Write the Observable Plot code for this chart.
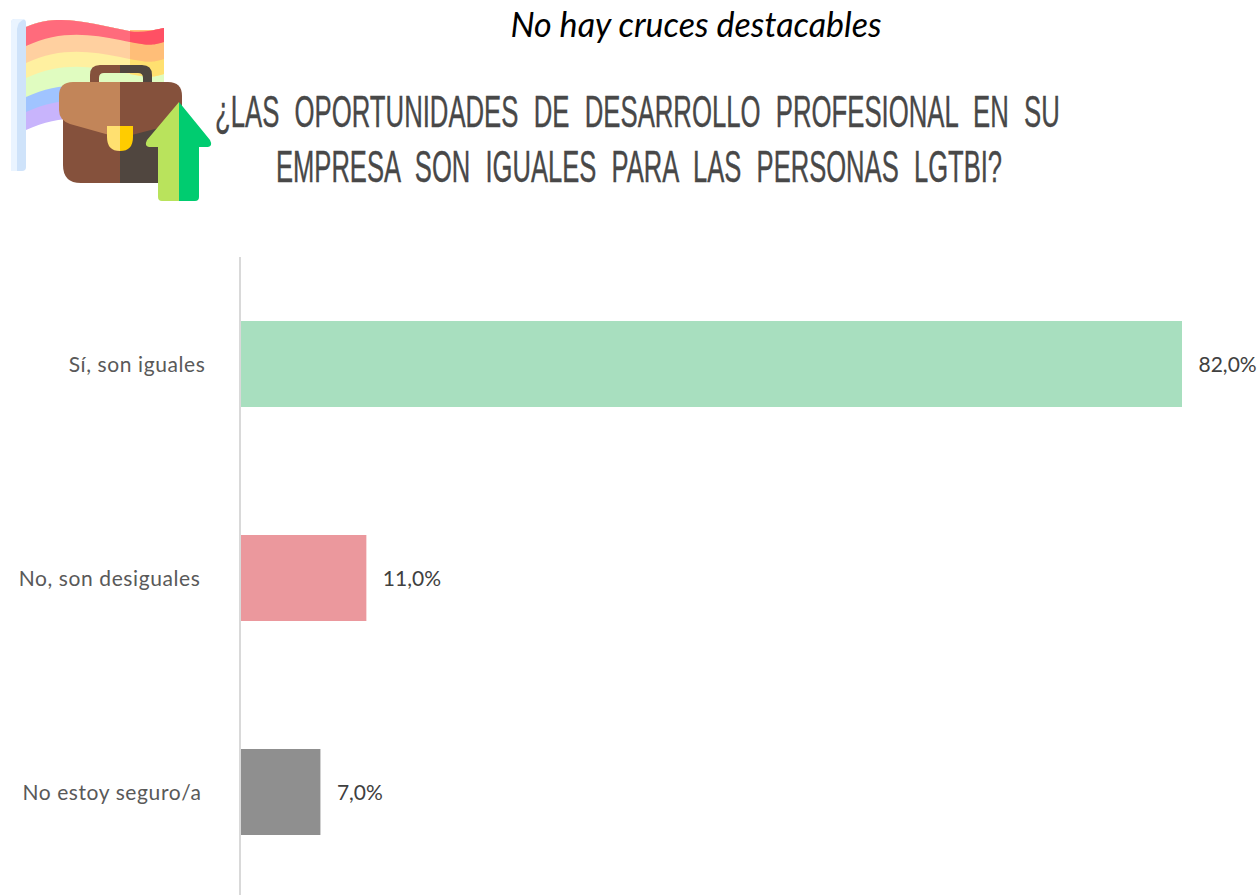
<!DOCTYPE html>
<html lang="es">
<head>
<meta charset="utf-8">
<script src="https://cdn.jsdelivr.net/npm/d3@7"></script>
<script src="https://cdn.jsdelivr.net/npm/@observablehq/plot@0.6"></script>
<style>
html,body{margin:0;padding:0;background:#fff;width:1258px;height:895px;overflow:hidden;}
#sub{position:absolute;left:0;width:1392px;top:3px;text-align:center;font:italic 34px Lato,sans-serif;color:#000;white-space:nowrap;}
#title{position:absolute;left:0;top:0;overflow:visible;}
#title text{font:400 44px "Liberation Sans",sans-serif;fill:#484848;stroke:#484848;stroke-width:.4px;word-spacing:14px;}
#icon{position:absolute;left:0;top:0;}
#chart{position:absolute;left:0;top:257px;}
#chart .cat, #chart .cat text{letter-spacing:.6px;}
</style>
</head>
<body>
<div id="sub">No hay cruces destacables</div>
<svg id="title" width="1258" height="205" role="img" aria-label="Título">
  <text transform="translate(215,127) scale(.6,1)" textLength="1408" lengthAdjust="spacingAndGlyphs">¿LAS OPORTUNIDADES DE DESARROLLO PROFESIONAL EN SU</text>
  <text transform="translate(276,182) scale(.6,1)" textLength="1210" lengthAdjust="spacingAndGlyphs">EMPRESA SON IGUALES PARA LAS PERSONAS LGTBI?</text>
</svg>
<svg id="icon" width="215" height="205" viewBox="0 0 215 205" aria-hidden="true">
  <defs><clipPath id="r"><rect x="130" y="0" width="40" height="140"/></clipPath></defs>
  <rect x="11" y="19" width="15" height="152" rx="4" fill="#cfe3fa"/>
  <path d="M11 23q0-4 4-4h10q-7 2-8 10v142h-6z" fill="#eaf4ff"/>
  <g id="stripes">
    <path d="M26 130C60 114 90 118 120 124S150 130 164 126V28C150 31 140 33 129 31C95 25 60 12 26 27Z" fill="#c8b4fc"/>
    <path d="M26 112C60 96 90 100 120 106S150 112 164 108V28C150 31 140 33 129 31C95 25 60 12 26 27Z" fill="#a0c4ff"/>
    <path d="M26 97C60 81 90 85 120 91S150 97 164 93V28C150 31 140 33 129 31C95 25 60 12 26 27Z" fill="#e0fcc0"/>
    <path d="M26 78C60 62 90 66 120 72S150 78 164 74V28C150 31 140 33 129 31C95 25 60 12 26 27Z" fill="#fff0a0"/>
    <path d="M26 63C60 47 90 51 120 57S150 63 164 59V28C150 31 140 33 129 31C95 25 60 12 26 27Z" fill="#ffd0a0"/>
    <path d="M26 46C60 30 90 34 120 40S150 46 164 42V28C150 31 140 33 129 31C95 25 60 12 26 27Z" fill="#ff6b7c"/>
  </g>
  <g clip-path="url(#r)">
    <path d="M26 78C60 62 90 66 120 72S150 78 164 74V55H26Z" fill="#ffe070"/>
    <path d="M26 63C60 47 90 51 120 57S150 63 164 59V30H26Z" fill="#ffbe78"/>
    <path d="M26 46C60 30 90 34 120 40S150 46 164 42V28C150 31 140 33 129 31C95 25 60 12 26 27Z" fill="#ff5064"/>
  </g>
  <path d="M90 84V75Q90 65 100 65H120V73H104Q99 73 99 78V84Z" fill="#85513c"/>
  <path d="M152 84V75Q152 65 142 65H120V73H138Q143 73 143 78V84Z" fill="#50463f"/>
  <path d="M63 118V165Q63 183 81 183H120V118Z" fill="#85513c"/>
  <path d="M120 118V183H165V118Z" fill="#50463f"/>
  <path d="M59 96Q59 82 73 82H120V138L70 124Q59 120 59 110Z" fill="#c28559"/>
  <path d="M120 82H168Q182 82 182 96V122L120 138Z" fill="#85513c"/>
  <path d="M107 126H120V151Q107 151 107 137Z" fill="#ffe070"/>
  <path d="M120 126H133V137Q133 151 120 151Z" fill="#ffcc00"/>
  <path d="M179 102L147 140Q144 146 149 147H158V197Q158 201 162 201H179Z" fill="#b9e35c"/>
  <path d="M179 102L210 140Q213 146 208 147H199V197Q199 201 195 201H179Z" fill="#00cc70"/>
</svg>
<div id="chart"></div>
<script>
const categories = ["Sí, son iguales", "No, son desiguales", "No estoy seguro/a"];
const percentages = [82, 11, 7];
const barColors = ["#a8dfbf", "#eb989d", "#8f8f8f"];
const valueLabels = ["82,0%", "11,0%", "7,0%"];

const rows = categories.map((category, i) => ({
  category, value: percentages[i], color: barColors[i], label: valueLabels[i]
}));

const categoryLabel = (row, dx) => Plot.text([row], {
  x: 0, y: "category", text: "category", textAnchor: "end", dx, dy: 1,
  fill: "#595959", fontSize: 21, fontFamily: "Lato, sans-serif", className: "cat"
});

const chart = Plot.plot({
  width: 1258,
  height: 638,
  margin: 0,
  style: {background: "transparent", overflow: "hidden"},
  x: {domain: [0, 82], range: [240, 1182], axis: null},
  y: {domain: categories, range: [0, 642], paddingInner: 0.598, paddingOuter: 0.299, axis: null},
  marks: [
    Plot.barX(rows, {y: "category", x: "value", fill: "color"}),
    Plot.ruleX([0], {stroke: "#d9d9d9", strokeWidth: 2, dx: -0.5}),
    categoryLabel(rows[0], -35),
    categoryLabel(rows[1], -40),
    categoryLabel(rows[2], -39),
    Plot.text(rows, {
      x: "value", y: "category", text: "label", textAnchor: "start", dx: 16, dy: 1,
      fill: "#404040", fontSize: 21, fontFamily: "Lato, sans-serif"
    })
  ]
});
document.getElementById("chart").appendChild(chart);
</script>
</body>
</html>
